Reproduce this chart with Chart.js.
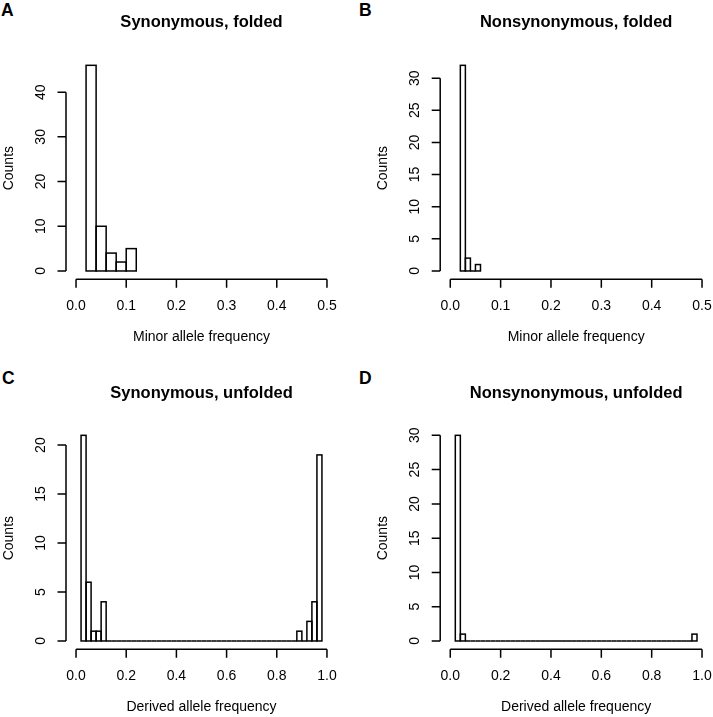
<!DOCTYPE html>
<html><head><meta charset="utf-8">
<script src="https://cdn.jsdelivr.net/npm/chart.js@4/dist/chart.umd.min.js"></script>
<style>
html,body{margin:0;padding:0;background:#fff;}
body{width:713px;height:717px;position:relative;overflow:hidden;font-family:"Liberation Sans",Arial,Helvetica,sans-serif;}
canvas{position:absolute;}
.letter{position:absolute;font-weight:bold;font-size:17.5px;line-height:17px;color:#000;}
</style></head><body>
<div class="letter" style="left:1px;top:2px">A</div>
<div class="letter" style="left:359px;top:2px">B</div>
<div class="letter" style="left:2px;top:369.5px">C</div>
<div class="letter" style="left:359px;top:369.5px">D</div>
<canvas id="cA" width="356" height="347" style="left:0;top:0"></canvas>
<canvas id="cB" width="357" height="347" style="left:356px;top:0"></canvas>
<canvas id="cC" width="356" height="347" style="left:0;top:370px"></canvas>
<canvas id="cD" width="357" height="347" style="left:356px;top:370px"></canvas>
<script>
// ---------- data ----------
const synFoldedBinStarts = [0.02, 0.04, 0.06, 0.08, 0.10];
const synFoldedCounts = [46, 10, 4, 2, 5];

const nonsynFoldedBinStarts = [0.02, 0.03, 0.04, 0.05];
const nonsynFoldedCounts = [32, 2, 0, 1];

const unfoldedBinStarts = [0.02, 0.04, 0.06, 0.08, 0.10, 0.12, 0.14, 0.16, 0.18, 0.20,
  0.22, 0.24, 0.26, 0.28, 0.30, 0.32, 0.34, 0.36, 0.38, 0.40,
  0.42, 0.44, 0.46, 0.48, 0.50, 0.52, 0.54, 0.56, 0.58, 0.60,
  0.62, 0.64, 0.66, 0.68, 0.70, 0.72, 0.74, 0.76, 0.78, 0.80,
  0.82, 0.84, 0.86, 0.88, 0.90, 0.92, 0.94, 0.96];
const synUnfoldedCounts = [21, 6, 1, 1, 4, 0, 0, 0, 0, 0,
  0, 0, 0, 0, 0, 0, 0, 0, 0, 0,
  0, 0, 0, 0, 0, 0, 0, 0, 0, 0,
  0, 0, 0, 0, 0, 0, 0, 0, 0, 0,
  0, 0, 0, 1, 0, 2, 4, 19];
const nonsynUnfoldedCounts = [30, 1, 0, 0, 0, 0, 0, 0, 0, 0,
  0, 0, 0, 0, 0, 0, 0, 0, 0, 0,
  0, 0, 0, 0, 0, 0, 0, 0, 0, 0,
  0, 0, 0, 0, 0, 0, 0, 0, 0, 0,
  0, 0, 0, 0, 0, 0, 0, 1];

const foldedXTicks = [0, 0.1, 0.2, 0.3, 0.4, 0.5];
const foldedXTickLabels = ['0.0', '0.1', '0.2', '0.3', '0.4', '0.5'];
const unfoldedXTicks = [0, 0.2, 0.4, 0.6, 0.8, 1.0];
const unfoldedXTickLabels = ['0.0', '0.2', '0.4', '0.6', '0.8', '1.0'];
const yTicksA = [0, 10, 20, 30, 40];
const yTicksB = [0, 5, 10, 15, 20, 25, 30];
const yTicksC = [0, 5, 10, 15, 20];
const yTicksD = [0, 5, 10, 15, 20, 25, 30];

const panelTitles = ['Synonymous, folded', 'Nonsynonymous, folded', 'Synonymous, unfolded', 'Nonsynonymous, unfolded'];
const xAxisTitles = ['Minor allele frequency', 'Minor allele frequency', 'Derived allele frequency', 'Derived allele frequency'];
const yAxisTitle = 'Counts';

// ---------- styling ----------
const FONT = '"Liberation Sans", Arial, Helvetica, sans-serif';
const LW = 1.5;
const TICK = 8.5;

const rAxes = {
  id: 'rAxes',
  afterDatasetsDraw(chart) {
    const ctx = chart.ctx;
    ctx.save();
    ctx.strokeStyle = '#000';
    ctx.lineWidth = LW;
    chart.getDatasetMeta(0).data.forEach(el => {
      const p = el.getProps(['x', 'y', 'base', 'width'], true);
      ctx.strokeRect(p.x - p.width / 2, p.y, p.width, p.base - p.y);
    });
    ctx.restore();
  },
  afterDraw(chart) {
    const ctx = chart.ctx, xs = chart.scales.x, ys = chart.scales.y, ca = chart.chartArea;
    ctx.save();
    ctx.strokeStyle = '#000'; ctx.fillStyle = '#000'; ctx.lineWidth = LW;
    ctx.font = '14px ' + FONT;
    // x axis
    const y0 = ca.bottom;
    const xp = xs.ticks.map(t => xs.getPixelForValue(t.value));
    ctx.beginPath();
    ctx.moveTo(xp[0], y0); ctx.lineTo(xp[xp.length - 1], y0);
    xp.forEach(p => { ctx.moveTo(p, y0); ctx.lineTo(p, y0 + TICK); });
    ctx.stroke();
    ctx.textAlign = 'center'; ctx.textBaseline = 'alphabetic';
    xs.ticks.forEach((t, i) => ctx.fillText(t.label, xp[i], y0 + 30.5));
    // y axis
    const x0 = ca.left;
    const yp = ys.ticks.map(t => ys.getPixelForValue(t.value));
    ctx.beginPath();
    ctx.moveTo(x0, yp[0]); ctx.lineTo(x0, yp[yp.length - 1]);
    yp.forEach(p => { ctx.moveTo(x0, p); ctx.lineTo(x0 - TICK, p); });
    ctx.stroke();
    ys.ticks.forEach((t, i) => {
      ctx.save();
      ctx.translate(x0 - 21, yp[i]);
      ctx.rotate(-Math.PI / 2);
      ctx.fillText(t.label, 0, 0);
      ctx.restore();
    });
    ctx.restore();
  }
};

function makeHist(id, binStarts, counts, xlim, xTicks, xTickLabels, yTicks, title, xTitle, padLeft, padRight, titleTop) {
  const bw = binStarts[1] - binStarts[0];
  const data = binStarts.map((s, i) => ({ x: s + bw / 2, y: counts[i] }));
  const xr = xlim[1] - xlim[0];
  const ymax = Math.max(...counts);
  new Chart(document.getElementById(id), {
    type: 'bar',
    data: { datasets: [{ data, backgroundColor: '#ffffff', borderWidth: 0, barPercentage: 1, categoryPercentage: 1 }] },
    options: {
      responsive: false, animation: false, devicePixelRatio: 1,
      layout: { padding: { left: padLeft, right: padRight, top: 0, bottom: 0 } },
      plugins: {
        legend: { display: false }, tooltip: { enabled: false },
        title: { display: true, text: title, fullSize: false, color: '#000',
          font: { family: FONT, size: 16.5, weight: 'bold' }, padding: { top: titleTop, bottom: 37.3 - titleTop } }
      },
      scales: {
        x: {
          type: 'linear', offset: false, min: xlim[0] - 0.04 * xr, max: xlim[1] + 0.04 * xr,
          grid: { display: false, offset: false }, border: { display: false },
          ticks: { display: false, callback: (v, i) => xTickLabels[i] },
          afterBuildTicks: s => { s.ticks = xTicks.map(v => ({ value: v })); },
          afterFit: s => { s.height = 67.8; },
          title: { display: true, text: xTitle, color: '#000', font: { family: FONT, size: 14 }, padding: { top: 0, bottom: 1.75 } }
        },
        y: {
          type: 'linear', min: -0.04 * ymax, max: ymax * 1.04,
          grid: { display: false }, border: { display: false },
          ticks: { display: false, callback: (v) => String(v) },
          afterBuildTicks: s => { s.ticks = yTicks.map(v => ({ value: v })); },
          afterFit: s => { s.width = 66; },
          title: { display: true, text: yAxisTitle, color: '#000', font: { family: FONT, size: 14 }, padding: { top: 0.7, bottom: 0 } }
        }
      }
    },
    plugins: [rAxes]
  });
}

makeHist('cA', synFoldedBinStarts, synFoldedCounts, [0, 0.5], foldedXTicks, foldedXTickLabels, yTicksA, panelTitles[0], xAxisTitles[0], 0, 19, 12.7);
makeHist('cB', nonsynFoldedBinStarts, nonsynFoldedCounts, [0, 0.5], foldedXTicks, foldedXTickLabels, yTicksB, panelTitles[1], xAxisTitles[1], 18.2, 0.9, 12.7);
makeHist('cC', unfoldedBinStarts, synUnfoldedCounts, [0, 1], unfoldedXTicks, unfoldedXTickLabels, yTicksC, panelTitles[2], xAxisTitles[2], 0, 19, 13.6);
makeHist('cD', unfoldedBinStarts, nonsynUnfoldedCounts, [0, 1], unfoldedXTicks, unfoldedXTickLabels, yTicksD, panelTitles[3], xAxisTitles[3], 18.2, 0.9, 13.6);
</script>
</body></html>
